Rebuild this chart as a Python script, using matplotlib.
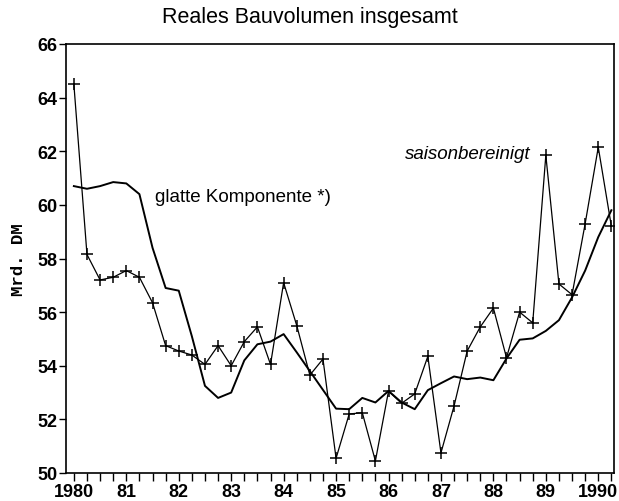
import matplotlib
matplotlib.use("Agg")
import matplotlib.pyplot as plt
import numpy as np

plt.rcParams['font.family'] = ['Liberation Sans', 'DejaVu Sans']

start_year = 1980
saison = [64.5, 58.15, 57.2, 57.3,
          57.55, 57.3, 56.35, 54.75,
          54.55, 54.4, 54.05, 54.75,
          54.0, 54.9, 55.45, 54.05,
          57.1, 55.5, 53.65, 54.25,
          50.55, 52.2, 52.25, 50.45,
          53.05, 52.6, 52.95, 54.35,
          50.75, 52.5, 54.55, 55.45,
          56.15, 54.3, 56.0, 55.6,
          61.85, 57.05, 56.65, 59.3,
          62.15, 59.2]
glatt = [60.7, 60.6, 60.7, 60.85,
         60.8, 60.4, 58.4, 56.9,
         56.8, 55.1, 53.25, 52.8,
         53.0, 54.2, 54.8, 54.9,
         55.18, 54.5, 53.8, 53.1,
         52.4, 52.38, 52.8, 52.63,
         53.06, 52.63, 52.38, 53.09,
         53.35, 53.6, 53.5, 53.56,
         53.46, 54.27, 54.97, 55.02,
         55.3, 55.7, 56.55, 57.55,
         58.8, 59.8]
year_labels = ['1980', '81', '82', '83', '84', '85', '86', '87', '88', '89', '1990']
y_ticks = [50, 52, 54, 56, 58, 60, 62, 64, 66]

t = start_year + np.arange(len(saison)) / 4.0

fig = plt.figure(figsize=(6.19, 5.02), dpi=100)
ax = fig.add_axes([66/619, 1-474/502, (614-66)/619, (474-45)/502])

ax.plot(t, glatt, color='black', lw=1.4)
ax.plot(t, saison, color='black', lw=0.9, marker='+', markersize=8.5, markeredgewidth=1.1)

ax.set_xlim(1979.85, 1990.30)
ax.set_ylim(50, 66)
ax.set_yticks(y_ticks)
ax.set_yticklabels([str(v) for v in y_ticks], fontsize=13, fontweight='bold')
ax.set_xticks(np.arange(1980, 1991))
ax.set_xticklabels(year_labels, fontsize=13, fontweight='bold')
ax.set_xticks(np.arange(1980, 1990.3, 0.25), minor=True)
ax.tick_params(axis='x', which='major', length=6, width=1, pad=1)
ax.tick_params(axis='x', which='minor', length=6, width=1)
ax.tick_params(axis='y', which='major', length=5, width=1, pad=1)
for s in ax.spines.values():
    s.set_linewidth(1.2)

ax.set_ylabel('Mrd. DM', family=['Liberation Mono', 'DejaVu Sans Mono'], fontweight='bold', fontsize=12.5, labelpad=8)

ax.text(1981.55, 60.33, 'glatte Komponente *)', fontsize=13.5, va='center', ha='left')
ax.text(1988.70, 61.9, 'saisonbereinigt', fontsize=13.5, style='italic', va='center', ha='right')

fig.text(0.5, 1-18/502, 'Reales Bauvolumen insgesamt', fontsize=15.5, ha='center', va='center')

fig.savefig('out.png', dpi=100)
